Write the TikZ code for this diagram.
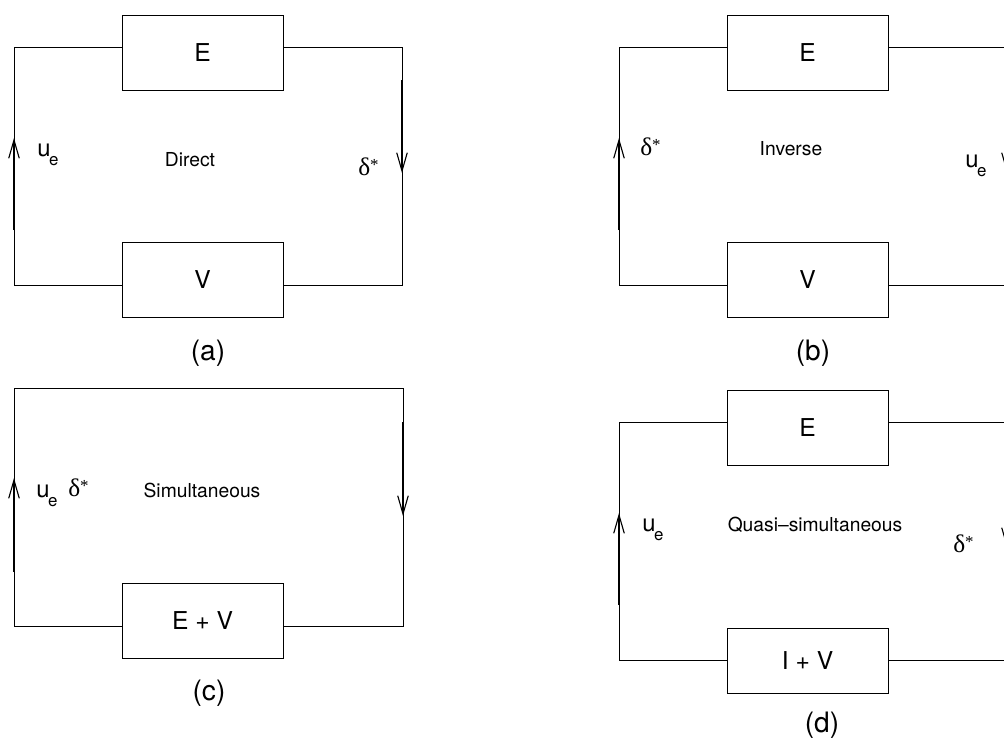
\documentclass[tikz,border=0pt]{standalone}
\usepackage{fontspec}
\setmainfont{TeX Gyre Heros}
\newfontfamily\greekfont{Liberation Serif}
\usetikzlibrary{arrows.meta}

% edge velocity and displacement thickness
\newcommand{\uvel}{u\kern-1pt\raisebox{-7pt}{\fontsize{12}{12}\selectfont e}}
\newcommand{\dthick}{{\greekfont\fontsize{18}{18}\selectfont δ\raisebox{3.5pt}{\fontsize{12}{12}\selectfont *}}}

\tikzset{
  block/.style={draw, line width=0.6pt, minimum width=4.025cm, minimum height=1.875cm,
    inner sep=0pt, font=\fontsize{17.5}{20}\selectfont},
  wire/.style={line width=0.7pt},
  flow/.style={line width=0.8pt, -{Straight Barb[length=13pt,width=7.5pt]}},
  tag/.style={inner sep=0pt, anchor=base, font=\fontsize{13.7}{16}\selectfont},
  sym/.style={inner sep=0pt, anchor=base west, font=\fontsize{17}{20}\selectfont},
  sublabel/.style={inner sep=0pt, font=\fontsize{20}{24}\selectfont}
}

\begin{document}
\begin{tikzpicture}[x=0.025cm, y=-0.025cm]
\useasboundingbox (0,0) rectangle (1004,742);

% (a) direct
\begin{scope}[shift = {(14,47)}]
\node[block] (Ea) at (188.5,5.5) {E};
\node[block] (Va) at (188.5,232.5) {V};
\coordinate (tla) at (0,0);
\coordinate (tra) at (388,0);
\coordinate (bla) at (0,238);
\coordinate (bra) at (388,238);
\draw[wire] (Ea.west |- tla) -- (tla) -- (bla) -- (Va.west |- bla);
\draw[wire] (Ea.east |- tra) -- (tra) -- (bra) -- (Va.east |- bra);
\coordinate (la0) at (0,183);
\coordinate (la1) at (0,91);
\coordinate (ra0) at (388,33);
\coordinate (ra1) at (388,126);
\draw[flow] (la0) -- (la1);
\draw[flow] (ra0) -- (ra1);
\node[sym] (ua) at (23,109) {\uvel};
\node[sym] (da) at (344,128) {\dthick};
\node[tag] (ma) at (176,119) {Direct};
\node[sublabel] (sa) at (194,306) {(a)};
\end{scope}

% (b) inverse
\begin{scope}[shift = {(619,47)}]
\node[block] (Eb) at (188.5,5.5) {E};
\node[block] (Vb) at (188.5,232.5) {V};
\coordinate (tlb) at (0,0);
\coordinate (trb) at (388,0);
\coordinate (blb) at (0,238);
\coordinate (brb) at (388,238);
\draw[wire] (Eb.west |- tlb) -- (tlb) -- (blb) -- (Vb.west |- blb);
\draw[wire] (Eb.east |- trb) -- (trb) -- (brb) -- (Vb.east |- brb);
\coordinate (lb0) at (0,183);
\coordinate (lb1) at (0,91);
\coordinate (rb0) at (388,33);
\coordinate (rb1) at (388,126);
\draw[flow] (lb0) -- (lb1);
\draw[flow] (rb0) -- (rb1);
\node[sym] (db) at (21,108) {\dthick};
\node[sym] (ub) at (346,120) {\uvel};
\node[tag] (mb) at (172,108) {Inverse};
\node[sublabel] (sb) at (194,306) {(b)};
\end{scope}

% (c) simultaneous
\begin{scope}[shift = {(14,388)}]
\node[block] (EVc) at (188.5,232.5) {E + V};
\coordinate (tlc) at (0,0);
\coordinate (trc) at (389,0);
\coordinate (blc) at (0,238);
\coordinate (brc) at (389,238);
\draw[wire] (EVc.west |- blc) -- (blc) -- (tlc) -- (trc) -- (brc) -- (EVc.east |- brc);
\coordinate (lc0) at (0,184);
\coordinate (lc1) at (0,90);
\coordinate (rc0) at (389,34);
\coordinate (rc1) at (389,128);
\draw[flow] (lc0) -- (lc1);
\draw[flow] (rc0) -- (rc1);
\node[sym] (uc) at (22,109) {\uvel};
\node[sym] (dc) at (54,108) {\dthick};
\node[tag] (mc) at (188,109) {Simultaneous};
\node[sublabel] (sc) at (195,305) {(c)};
\end{scope}

% (d) quasi-simultaneous
\begin{scope}[shift = {(619,422)}]
\node[block] (Ed) at (188.5,5.5) {E};
\node[block, minimum height=1.625cm] (IVd) at (188.5,238.5) {I + V};
\coordinate (tld) at (0,0);
\coordinate (trd) at (388,0);
\coordinate (bld) at (0,238);
\coordinate (brd) at (388,238);
\draw[wire] (Ed.west |- tld) -- (tld) -- (bld) -- (IVd.west |- bld);
\draw[wire] (Ed.east |- trd) -- (trd) -- (brd) -- (IVd.east |- brd);
\coordinate (ld0) at (0,183);
\coordinate (ld1) at (0,91);
\coordinate (rd0) at (388,33);
\coordinate (rd1) at (388,126);
\draw[flow] (ld0) -- (ld1);
\draw[flow] (rd0) -- (rd1);
\node[sym] (ud) at (23,109) {\uvel};
\node[sym] (dd) at (334,130) {\dthick};
\node[tag] (md) at (196,109) {Quasi\textendash simultaneous};
\node[sublabel] (sd) at (203,303) {(d)};
\end{scope}
\end{tikzpicture}
\end{document}
